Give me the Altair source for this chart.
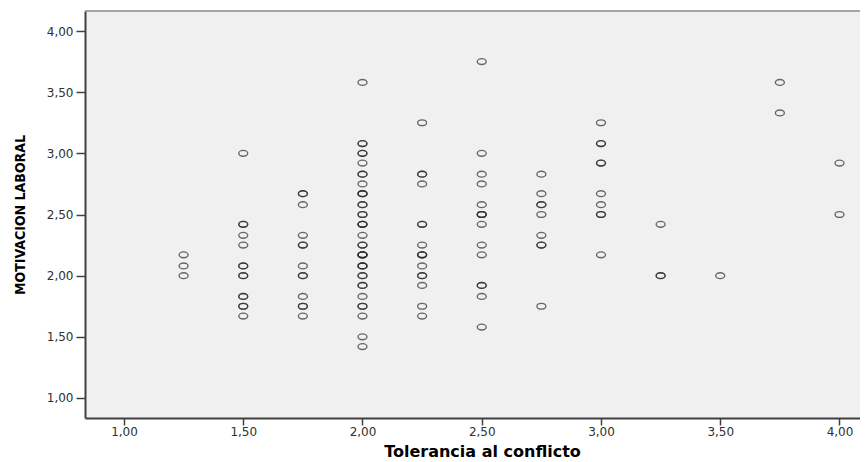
import altair as alt
import pandas as pd

# Tolerancia al conflicto (x) columns and MOTIVACION LABORAL (y) values read per column
x_levels = [1.25, 1.50, 1.75, 2.00, 2.25, 2.50, 2.75, 3.00, 3.25, 3.50, 3.75, 4.00]

y_125 = [2.00, 2.08, 2.17]
y_150 = [3.00, 2.42, 2.42, 2.33, 2.25, 2.08, 2.08, 2.00, 2.00, 1.83, 1.83, 1.75, 1.75, 1.67]
y_175 = [2.67, 2.67, 2.58, 2.33, 2.25, 2.25, 2.08, 2.00, 2.00, 1.83, 1.75, 1.75, 1.67]
y_200 = [3.58, 3.08, 3.08, 3.00, 3.00, 2.92, 2.83, 2.83, 2.75, 2.67, 2.67, 2.67,
         2.58, 2.58, 2.50, 2.50, 2.42, 2.42, 2.42, 2.33, 2.25, 2.25, 2.17, 2.17,
         2.17, 2.17, 2.08, 2.08, 2.08, 2.00, 2.00, 1.92, 1.92, 1.83, 1.75, 1.75,
         1.67, 1.50, 1.42]
y_225 = [3.25, 2.83, 2.83, 2.75, 2.42, 2.42, 2.25, 2.17, 2.17, 2.17, 2.08, 2.00, 2.00,
         1.92, 1.75, 1.67]
y_250 = [3.75, 3.00, 2.83, 2.75, 2.58, 2.50, 2.50, 2.50, 2.42, 2.25, 2.17, 1.92, 1.92,
         1.83, 1.58]
y_275 = [2.83, 2.67, 2.58, 2.58, 2.50, 2.33, 2.25, 2.25, 1.75]
y_300 = [3.25, 3.08, 3.08, 2.92, 2.92, 2.67, 2.58, 2.50, 2.50, 2.17]
y_325 = [2.42, 2.00, 2.00]
y_350 = [2.00]
y_375 = [3.58, 3.33]
y_400 = [2.92, 2.50]

columns = [y_125, y_150, y_175, y_200, y_225, y_250, y_275, y_300, y_325, y_350, y_375, y_400]
tick_values = [1.0, 1.5, 2.0, 2.5, 3.0, 3.5, 4.0]

rows = []
for xv, ys in zip(x_levels, columns):
    for yv in ys:
        rows.append({"tol": xv, "mot": yv})
df = pd.DataFrame(rows)

W, H = 775, 407
label_expr = "replace(format(datum.value, '.2f'), '.', ',')"

ellipse = ("M -1 0 C -1 -0.362 -0.552 -0.655 0 -0.655 C 0.552 -0.655 1 -0.362 1 0 "
           "C 1 0.362 0.552 0.655 0 0.655 C -0.552 0.655 -1 0.362 -1 0 Z")

points = alt.Chart(df).mark_point(
    shape=ellipse, size=80, filled=False, stroke="#262626", strokeWidth=1.35, opacity=0.68
).encode(
    x=alt.X("tol:Q",
            scale=alt.Scale(domain=[0.8365, 4.086], nice=False, zero=False),
            axis=alt.Axis(values=tick_values, labelExpr=label_expr,
                          title="Tolerancia al conflicto",
                          titleFont="DejaVu Sans", titleFontSize=16, titleFontWeight="bold",
                          titleColor="#000000", titleX=397, titleY=38,
                          titleAlign="center", titleBaseline="alphabetic",
                          tickSize=7, labelPadding=1, labelFlush=False)),
    y=alt.Y("mot:Q",
            scale=alt.Scale(domain=[0.8365, 4.1635], nice=False, zero=False),
            axis=alt.Axis(values=tick_values, labelExpr=label_expr,
                          title="MOTIVACION LABORAL",
                          titleFont="Liberation Sans Narrow, DejaVu Sans Condensed, sans-serif",
                          titleFontSize=14, titleFontWeight="bold", titleColor="#000000",
                          titleAngle=270, titleX=-65, titleY=H / 2,
                          titleAlign="center", titleBaseline="middle",
                          tickSize=9, labelPadding=3, labelFlush=False)),
)

top_border = alt.Chart(pd.DataFrame({"a": [0]})).mark_rule(
    color="#8a8a8a", strokeWidth=1.5
).encode(x=alt.value(0), x2=alt.value(W), y=alt.value(0))

chart = alt.layer(points, top_border).properties(
    width=W, height=H,
    autosize=alt.AutoSizeParams(type="none"),
    padding={"left": 77, "top": 3, "right": 0, "bottom": 41},
    background="#ffffff",
).configure_view(
    fill="#f0f0f0", strokeWidth=0
).configure_axis(
    grid=False,
    domainColor="#404040", domainWidth=2,
    tickColor="#404040", tickWidth=1.5,
    labelFont="DejaVu Sans", labelFontSize=12, labelColor="#303030",
)

chart.save("out.html", embed_options={"renderer": "svg", "actions": False})
